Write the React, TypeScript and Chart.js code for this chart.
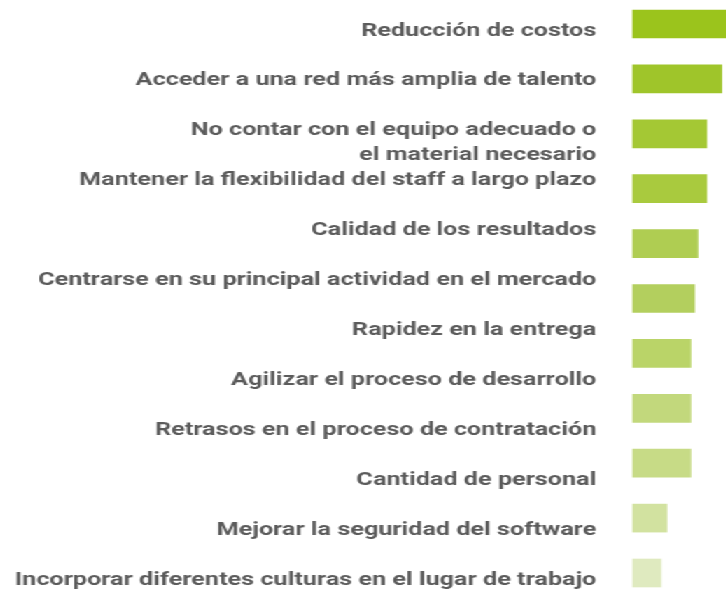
import React, { useEffect, useRef } from "react";
import { Chart, registerables } from "chart.js";

Chart.register(...registerables);

// Category labels shown on the left (12 items)
const categories: (string | string[])[] = [
  "Reducción de costos",
  "Acceder a una red más amplia de talento",
  ["", "No contar con el equipo adecuado o", "el material necesario"],
  "Mantener la flexibilidad del staff a largo plazo",
  "Calidad de los resultados",
  "Centrarse en su principal actividad en el mercado",
  "Rapidez en la entrega",
  "Agilizar el proceso de desarrollo",
  "Retrasos en el proceso de contratación",
  "Cantidad de personal",
  "Mejorar la seguridad del software",
  "Incorporar diferentes culturas en el lugar de trabajo",
];

// Bars visible in the picture (11 bars)
const barLabels: string[] = [
  "Reducción de costos",
  "Acceder a una red más amplia de talento",
  "No contar con el equipo adecuado o el material necesario",
  "Mantener la flexibilidad del staff a largo plazo",
  "Calidad de los resultados",
  "Centrarse en su principal actividad en el mercado",
  "Rapidez en la entrega",
  "Agilizar el proceso de desarrollo",
  "Retrasos en el proceso de contratación",
  "Mejorar la seguridad del software",
  "Incorporar diferentes culturas en el lugar de trabajo",
];

const values: number[] = [62, 56.9, 47.3, 47.3, 41.6, 39.5, 37.1, 37.1, 37.1, 21.8, 18];

const barColors: string[] = [
  "#9bc41c",
  "#9fc52a",
  "#a4c834",
  "#a9ca3e",
  "#afcd52",
  "#b3cf5e",
  "#bad468",
  "#c2d87c",
  "#c7db86",
  "#d2e2a0",
  "#dfeabf",
];

const X_MAX = 60;
const STRETCH = 1.4;
const CANVAS_W = 519;
const CANVAS_H = 593;

export default function App() {
  const canvasRef = useRef<HTMLCanvasElement | null>(null);

  useEffect(() => {
    if (!canvasRef.current) return;
    const chart = new Chart(canvasRef.current, {
      type: "bar",
      data: {
        labels: barLabels,
        datasets: [
          {
            data: values,
            backgroundColor: barColors,
            borderWidth: 0,
            barThickness: 28,
            clip: false,
            yAxisID: "yBars",
            xAxisID: "x",
          },
        ],
      },
      options: {
        indexAxis: "y",
        animation: false,
        responsive: false,
        events: [],
        layout: { padding: { top: 24, bottom: 20, left: 0, right: 0 } },
        plugins: {
          legend: { display: false },
          tooltip: { enabled: false },
          title: { display: false },
        },
        scales: {
          x: {
            type: "linear",
            min: 0,
            max: X_MAX,
            display: false,
          },
          yLabels: {
            type: "category",
            labels: categories as any,
            position: "left",
            offset: false,
            grid: { display: false, drawTicks: false },
            border: { display: false },
            afterFit: (scale: any) => {
              scale.width = 452;
              scale.paddingTop = 0;
              scale.paddingBottom = 0;
            },
            ticks: {
              padding: 26,
              labelOffset: 7,
              autoSkip: false,
              color: "#5b5b5b",
              font: { family: "Roboto", weight: "bold", size: 18, lineHeight: 1.39 },
            },
          },
          yBars: {
            type: "category",
            labels: barLabels,
            position: "left",
            offset: false,
            display: false,
          },
        },
      },
    } as any);
    return () => chart.destroy();
  }, []);

  return (
    <div
      style={{
        position: "absolute",
        left: 0,
        top: 0,
        width: CANVAS_W,
        height: CANVAS_H,
        background: "#ffffff",
        transform: `scaleX(${STRETCH})`,
        transformOrigin: "0 0",
      }}
    >
      <canvas ref={canvasRef} width={CANVAS_W} height={CANVAS_H} style={{ display: "block" }} />
    </div>
  );
}
